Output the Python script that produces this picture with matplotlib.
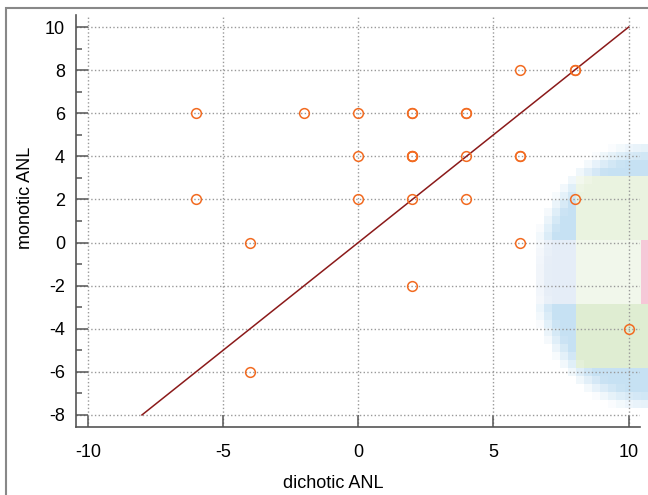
import numpy as np
import matplotlib
matplotlib.use("Agg")
from matplotlib import pyplot as plt
from matplotlib.patches import Rectangle

plt.rcParams['font.family'] = ['Liberation Sans', 'DejaVu Sans']
plt.rcParams['axes.unicode_minus'] = False

# puntos (dichotic, monotic); repetidos = puntos superpuestos
dichotic = [-6, -2, 0, 2, 2, 4, 4,
            0, 2, 2, 2, 4, 6, 6,
            -6, 0, 2, 4, 8,
            -4, 6,
            2,
            10,
            -4,
            6, 8, 8]
monotic = [6, 6, 6, 6, 6, 6, 6,
           4, 4, 4, 4, 4, 4, 4,
           2, 2, 2, 2, 2,
           0, 0,
           -2,
           -4,
           -6,
           8, 8, 8]

linea_x = [-8, 10]
linea_y = [-8, 10]

x_ticks = [-10, -5, 0, 5, 10]
y_ticks = [-8, -6, -4, -2, 0, 2, 4, 6, 8, 10]

# mancha de fondo (celdas)
bandas = [0, 4, 12, 20, 28, 33]       # filas donde cambia el color
col_izq = 5                            # columnas a la izquierda de x~8
col_der = 13                           # columna del borde derecho
azul = (0.78, 0.886, 0.953)
lavanda = (0.90, 0.93, 0.972)
verde_sup = (0.918, 0.953, 0.882)
verde_med = (0.949, 0.969, 0.925)
verde_inf = (0.875, 0.933, 0.827)
rosa = (0.965, 0.784, 0.847)

x_edges = 8.04 + 0.296 * np.arange(-5, 11)
y_edges = 4.57 - 0.371 * np.arange(34)
ncol, nfil = len(x_edges) - 1, len(y_edges) - 1
img = np.zeros((nfil, ncol, 4))
cx, cy, rx, ry = 10.85, -1.55, 4.33, 6.12
for j in range(nfil):
    yc = (y_edges[j] + y_edges[j + 1]) / 2
    for i in range(ncol):
        xc = (x_edges[i] + x_edges[i + 1]) / 2
        r = np.sqrt(((xc - cx) / rx) ** 2 + ((yc - cy) / ry) ** 2)
        if r > 1.03:
            continue
        a = min(1.0, (1.04 - r) / 0.16)
        if j < bandas[1] or j >= bandas[4]:
            c = azul
        elif j < bandas[2]:
            c = azul if i < col_izq else verde_sup
        elif j < bandas[3]:
            if i < col_izq:
                c = lavanda
            elif i >= col_der:
                c = rosa
            else:
                c = verde_med
        else:
            c = azul if i < col_izq else verde_inf
        img[j, i, :3] = c
        img[j, i, 3] = a

fig = plt.figure(figsize=(6.48, 4.95), dpi=100)
ax = fig.add_axes([76 / 648, 1 - 427 / 495, (640 - 76) / 648, (427 - 15) / 495])

ax.imshow(img, extent=(x_edges[0], x_edges[-1], y_edges[-1], y_edges[0]),
          origin='upper', interpolation='nearest', aspect='auto',
          zorder=0, clip_on=False)

ax.plot(linea_x, linea_y, color='#8b1a1a', lw=1.1, zorder=3)
ax.plot(dichotic, monotic, 'o', mfc='none', mec='#f26b21', ms=7, mew=1.1, zorder=4)

ax.set_xlim(-10.44, 10.42)
ax.set_ylim(-8.56, 10.56)
ax.set_xticks(x_ticks)
ax.set_yticks(y_ticks)
ax.set_yticks(np.arange(-7, 10, 2), minor=True)
ax.tick_params(which='major', direction='in', length=8.5, width=1.1, color='#555555',
               labelsize=13, pad=8)
ax.tick_params(axis='x', which='major', pad=12)
ax.tick_params(which='minor', direction='in', length=4.5, width=1.1, color='#555555')
ax.grid(True, which='major', ls=':', color='#999999', lw=1)

for s in ['top', 'right']:
    ax.spines[s].set_visible(False)
for s in ['left', 'bottom']:
    ax.spines[s].set_color('#555555')
    ax.spines[s].set_linewidth(1.2)

ax.set_xlabel('dichotic ANL', fontsize=13, va='top')
ax.xaxis.set_label_coords((333 - 76) / 564, (427 - 475) / 412)
ax.set_ylabel('monotic ANL', fontsize=13, va='bottom')
ax.yaxis.set_label_coords((34 - 76) / 564, (427 - 198) / 412)

fig.patches.append(Rectangle((6 / 648, -0.1), 1.2, 1.1 - 8 / 495,
                             transform=fig.transFigure, fill=False,
                             edgecolor='#888888', lw=1.5))

fig.savefig('out.png', dpi=100)
